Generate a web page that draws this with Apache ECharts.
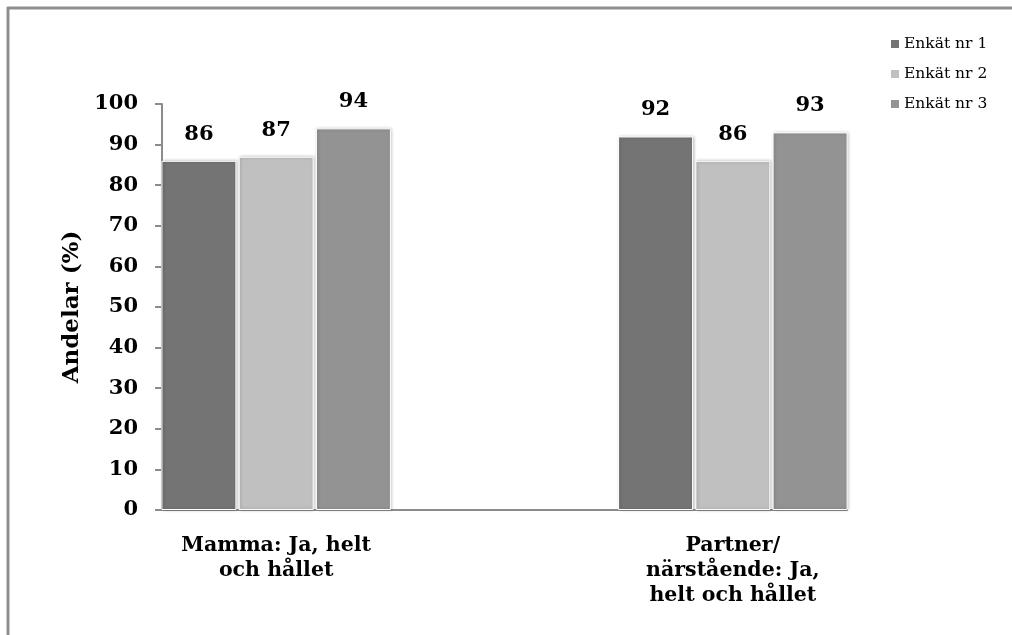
<!DOCTYPE html>
<html>
<head>
<meta charset="utf-8">
<script src="https://cdn.jsdelivr.net/npm/echarts@6/dist/echarts.min.js"></script>
<style>
  html, body { margin: 0; padding: 0; background: #fff; }
  #chart { width: 1012px; height: 635px; }
</style>
</head>
<body>
<div id="chart"></div>
<script>
// Category labels (one per bar group)
const categories = ['Mamma: Ja, helt\noch hållet', 'Partner/\nnärstående: Ja,\nhelt och hållet'];
// Survey rounds
const seriesNames = ['Enkät nr 1', 'Enkät nr 2', 'Enkät nr 3'];
// Share (%) per survey round, per category
const enkat1 = [86, 92];
const enkat2 = [87, 86];
const enkat3 = [94, 93];
const yTicks = [0, 10, 20, 30, 40, 50, 60, 70, 80, 90, 100];

const colors = ['#747474', '#c0c0c0', '#939393'];
const serif = '"DejaVu Serif", "Liberation Serif", serif';
const values = [enkat1, enkat2, enkat3];

const chart = echarts.init(document.getElementById('chart'), null, { renderer: 'canvas' });

const series = seriesNames.map((name, i) => ({
  name: name,
  type: 'bar',
  barWidth: 75,
  barGap: '3%',
  data: values[i].map((v, k) => [k, v]),
  itemStyle: {
    color: colors[i],
    borderColor: '#ffffff',
    borderWidth: 1,
    shadowColor: 'rgba(0,0,0,0.25)',
    shadowBlur: 3,
    shadowOffsetX: 1,
    shadowOffsetY: 0
  },
  label: {
    show: true,
    position: 'top',
    distance: 16,
    fontFamily: serif,
    fontWeight: 'bold',
    fontSize: 21,
    color: '#000'
  }
}));

chart.setOption({
  animation: false,
  backgroundColor: '#fff',
  color: colors,
  graphic: [
    { type: 'line', shape: { x1: 7, y1: 8, x2: 1012, y2: 8 }, style: { stroke: '#8f8f8f', lineWidth: 3 } },
    { type: 'line', shape: { x1: 8, y1: 7, x2: 8, y2: 635 }, style: { stroke: '#8f8f8f', lineWidth: 3 } }
  ],
  legend: {
    orient: 'vertical',
    left: 886,
    top: 31,
    itemWidth: 8,
    itemHeight: 8,
    itemGap: 14,
    icon: 'rect',
    textStyle: { fontFamily: serif, fontSize: 15.5, color: '#000' },
    data: seriesNames.map((n, i) => ({ name: n, itemStyle: { color: colors[i], shadowBlur: 0, borderWidth: 0 } }))
  },
  grid: { left: 162, right: 165, top: 104, bottom: 125, containLabel: false },
  xAxis: {
    type: 'value',
    min: -0.25,
    max: 1.25,
    splitLine: { show: false },
    axisLine: { show: true, onZero: false, lineStyle: { color: '#8c8c8c', width: 2 } },
    axisTick: { show: false },
    axisLabel: {
      customValues: [0, 1],
      formatter: v => categories[Math.round(v)],
      margin: 23,
      fontFamily: serif,
      fontWeight: 'bold',
      fontSize: 20.5,
      lineHeight: 25,
      color: '#000',
      align: 'center'
    }
  },
  yAxis: {
    type: 'value',
    min: 0,
    max: 100,
    interval: 10,
    name: 'Andelar (%)',
    nameLocation: 'middle',
    nameRotate: 90,
    nameGap: 78,
    nameTextStyle: { fontFamily: serif, fontWeight: 'bold', fontSize: 23, color: '#000' },
    splitLine: { show: false },
    axisLine: { show: true, onZero: false, lineStyle: { color: '#8c8c8c', width: 2 } },
    axisTick: { show: true, length: 7, lineStyle: { color: '#8c8c8c', width: 2 } },
    axisLabel: {
      margin: 24,
      fontFamily: serif,
      fontWeight: 'bold',
      fontSize: 21,
      color: '#000',
      formatter: v => (yTicks.indexOf(v) >= 0 ? String(v) : '')
    }
  },
  series: series
});
</script>
</body>
</html>
